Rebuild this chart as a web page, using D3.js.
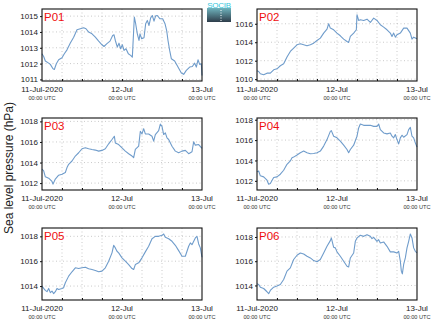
<!DOCTYPE html>
<html>
<head>
<meta charset="utf-8">
<script src="https://cdn.jsdelivr.net/npm/d3@7"></script>
<style>
  html, body { margin: 0; padding: 0; background: #fff; }
  svg { display: block; font-family: "Liberation Sans", Arial, sans-serif; }
</style>
</head>
<body>
<svg id="chart" width="435" height="327"></svg>
<script>
// Station names
const stations = ["P01", "P02", "P03", "P04", "P05", "P06"];

// Hours since 11-Jul-2020 00:00 UTC for each station's samples
const p01Hours = [0,0.5,1,2,2.5,3.3,3.7,4.3,5,6,6.7,7.5,8.5,9.5,10.5,11.5,12.5,13.2,14,15,16,17,18,18.6,19.4,20.4,21.2,21.6,22,22.6,23.1,23.6,24.1,24.6,25.2,25.9,26.6,27.1,27.4,27.7,28.1,28.6,29.1,29.4,29.9,30.6,31.1,31.6,32.1,32.6,33.1,33.6,34.1,34.6,35.4,36.2,36.9,37.4,37.8,38.3,38.8,39.8,40.8,41.8,42.5,43.3,44.3,45.1,45.8,46.3,46.8,47.3,47.8,48];
const p01Values = [1012.62,1012.45,1012.16,1012.03,1011.95,1011.67,1011.63,1011.99,1012.24,1012.37,1012.62,1012.87,1013.3,1013.67,1014.14,1014.2,1014.26,1014.2,1013.99,1013.88,1013.67,1013.42,1013.19,1013.08,1013.25,1013.42,1013.78,1013.82,1013.46,1013.04,1013.29,1012.94,1013.19,1012.83,1012.94,1012.62,1012.52,1012.41,1013.67,1014.94,1014.52,1013.88,1013.46,1013.88,1013.57,1013.63,1014.52,1014.73,1014.41,1014.89,1015.04,1014.68,1015.02,1015.04,1014.83,1014.83,1014.52,1014.09,1013.46,1012.83,1012.31,1012.16,1011.78,1011.4,1011.32,1011.57,1011.78,1011.82,1012.03,1011.78,1012.24,1011.95,1011.99,1011.25];

const p02Hours = [0,0.5,1,2,3,4,5,6,7,8,9,10,11,12,13,14,15,16,17,18,19,20,21,21.5,22,23,24,25,26,27,27.5,28,29,29.8,30,30.5,31,32,33,34,35,36,37,38,39,40,40.5,41,41.5,42,43,44,45,46,46.5,47,48];
const p02Values = [1010.9,1010.83,1010.58,1010.47,1010.65,1010.65,1011.01,1011.12,1011.45,1011.66,1012.39,1013.0,1013.36,1013.72,1013.83,1013.72,1013.61,1013.72,1013.9,1014.19,1014.45,1014.99,1015.42,1016.0,1015.53,1015.35,1014.99,1014.7,1014.34,1014.08,1013.98,1014.63,1014.99,1015.35,1016.98,1016.36,1016.43,1016.36,1016.5,1016.14,1016.61,1016.36,1015.89,1015.64,1015.35,1014.99,1014.63,1014.99,1014.55,1014.81,1014.99,1015.53,1015.53,1014.99,1014.34,1014.55,1014.37];

const p03Hours = [0,0.5,1,2,3,3.3,4,5,6,7,7.5,8,9,10,11,12,13,14,15,16,17,18,19,20,21,21.7,22,23,24,25,26,27,27.5,28,29,29.5,30,30.5,31,32,33,33.5,34,35,35.5,36,36.5,37,37.5,38,39,40,41,42,43,44,45,45.5,46,47,48];
const p03Values = [1013.35,1013.19,1012.61,1012.48,1012.16,1011.9,1012.39,1012.77,1012.87,1013.03,1013.51,1013.83,1014.15,1014.63,1014.95,1015.34,1015.43,1015.34,1015.27,1015.21,1015.11,1015.18,1015.34,1015.82,1016.24,1016.56,1015.91,1015.75,1015.43,1015.11,1014.86,1014.63,1014.47,1015.27,1015.59,1017.04,1016.78,1017.29,1016.78,1016.78,1016.56,1016.08,1016.72,1017.1,1017.74,1017.52,1016.72,1016.88,1016.4,1016.24,1015.59,1015.11,1014.95,1015.11,1015.18,1014.86,1015.05,1016.01,1015.69,1015.75,1015.37];

const p04Hours = [0,0.5,1,2,3,3.5,4,5,6,7,8,9,10,10.5,11,12,13,14,15,16,17,18,19,20,21,22,22.3,23,24,25,26,27,27.5,28,29,30,30.5,31,32,33,34,35,36,36.5,37,38,39,40,40.5,41,41.5,42,42.5,43,43.5,44,45,45.5,46,46.5,47,47.5,48];
const p04Values = [1012.88,1012.97,1012.49,1012.39,1012.06,1011.67,1011.74,1012.32,1012.39,1012.65,1013.04,1013.62,1013.95,1014.27,1014.33,1014.53,1014.76,1014.92,1014.76,1014.66,1014.69,1014.76,1014.92,1015.41,1016.05,1016.86,1016.93,1016.38,1016.22,1015.89,1015.5,1015.08,1014.76,1015.08,1015.5,1016.38,1017.19,1017.58,1017.45,1017.45,1017.45,1017.35,1017.35,1017.58,1017.03,1016.7,1016.61,1016.7,1016.38,1016.22,1016.54,1016.05,1015.63,1016.22,1016.48,1016.28,1016.54,1017.03,1017.25,1016.38,1016.22,1015.73,1015.31];

const p05Hours = [0,0.5,1,1.5,2,2.5,3,3.5,4,4.5,5,6,6.5,7,8,9,10,11,12,13,14,15,16,17,18,19,20,21,21.5,22,22.5,23,24,25,26,27,27.5,28,29,30,31,32,33,34,35,36,36.5,37,38,39,40,41,42,43,44,44.5,45,46,46.5,47,47.5,48];
const p05Values = [1014.0,1013.81,1013.65,1013.55,1013.81,1013.47,1013.6,1013.39,1013.55,1013.81,1013.73,1013.81,1013.87,1014.27,1014.8,1015.15,1015.47,1015.41,1015.47,1015.52,1015.39,1015.33,1015.25,1015.15,1015.2,1015.47,1016.0,1016.67,1017.28,1017.07,1016.8,1016.67,1016.27,1016.0,1015.73,1015.41,1015.33,1015.73,1015.87,1016.27,1016.75,1017.2,1017.81,1018.0,1018.0,1018.08,1018.19,1017.92,1017.81,1017.6,1017.28,1016.85,1016.4,1016.4,1017.2,1017.47,1017.33,1017.87,1018.0,1017.39,1017.07,1016.32];

const p06Hours = [0,0.5,1,2,3,3.5,4,5,6,7,8,9,10,11,12,13,14,15,16,17,18,19,20,21,22,22.3,23,23.5,24,25,26,27,27.5,28,29,29.5,30,31,32,33,34,34.5,35,36,36.5,37,38,39,40,41,42,42.5,43,43.3,43.6,44,44.5,45,45.5,46,46.5,47,47.5,48];
const p06Values = [1014.14,1014.08,1013.86,1013.75,1013.48,1013.32,1013.59,1013.86,1013.95,1014.08,1014.49,1015.18,1015.45,1016.14,1016.49,1016.68,1016.6,1016.41,1016.27,1016.05,1015.95,1016.14,1016.68,1017.23,1017.7,1017.92,1017.15,1017.1,1016.77,1016.41,1016.0,1015.59,1015.53,1016.27,1016.68,1017.64,1017.92,1018.14,1018.05,1018.19,1018.05,1017.86,1017.97,1017.64,1017.78,1017.51,1017.59,1017.23,1016.77,1016.77,1016.68,1016.82,1016.0,1015.18,1014.96,1015.73,1016.27,1017.1,1017.64,1018.25,1017.92,1017.1,1016.82,1016.68];

// Y-axis limits and tick values per station
const yLimits = [[1010.9,1015.45],[1009.8,1017.6],[1011.33,1018.33],[1011.1,1018.17],[1012.88,1018.67],[1012.8,1018.74]];
const yTicks = [[1011,1012,1013,1014,1015],[1010,1012,1014,1016],[1012,1014,1016,1018],[1012,1014,1016,1018],[1014,1016,1018],[1014,1016,1018]];

// X-axis tick labels
const xTickDates = ["2020-07-11T00:00:00Z","2020-07-12T00:00:00Z","2020-07-13T00:00:00Z"];
const xTickLabels = ["11-Jul-2020","12-Jul","13-Jul"];
const xTickSubLabels = ["00:00 UTC","00:00 UTC","00:00 UTC"];

const allHours = [p01Hours,p02Hours,p03Hours,p04Hours,p05Hours,p06Hours];
const allValues = [p01Values,p02Values,p03Values,p04Values,p05Values,p06Values];

const t0 = new Date("2020-07-11T00:00:00Z");
const t1 = new Date("2020-07-13T00:00:00Z");
const hourMs = 3600 * 1000;

const svg = d3.select("#chart");

// Panel geometry
const colX = [42, 257];
const rowY = [9, 118, 228];
const pw = 160, ph = 72;

stations.forEach((name, i) => {
  const col = i % 2, row = Math.floor(i / 2);
  const g = svg.append("g").attr("transform", `translate(${colX[col]},${rowY[row]})`);

  const x = d3.scaleUtc().domain([t0, t1]).range([0, pw]);
  const y = d3.scaleLinear().domain(yLimits[i]).range([ph, 0]);

  // grid: every 6 hours vertically, at each tick horizontally
  const gridTimes = d3.utcHour.every(6).range(t0, t1).slice(1);
  g.append("g").selectAll("line").data(gridTimes).join("line")
    .attr("x1", d => x(d)).attr("x2", d => x(d))
    .attr("y1", 0).attr("y2", ph)
    .attr("stroke", "#bdbdbd").attr("stroke-width", 0.8)
    .attr("stroke-dasharray", "1,2.5");
  g.append("g").selectAll("line").data(yTicks[i]).join("line")
    .attr("x1", 0).attr("x2", pw)
    .attr("y1", d => y(d)).attr("y2", d => y(d))
    .attr("stroke", "#bdbdbd").attr("stroke-width", 0.8)
    .attr("stroke-dasharray", "1,2.5");

  // pressure series
  const pts = allHours[i].map((h, k) => [new Date(t0.getTime() + h * hourMs), allValues[i][k]]);
  g.append("path").datum(pts)
    .attr("fill", "none")
    .attr("stroke", "#6f9ccb")
    .attr("stroke-width", 1.1)
    .attr("stroke-linejoin", "round")
    .attr("d", d3.line().x(d => x(d[0])).y(d => y(d[1])));

  // frame
  g.append("rect").attr("x", 0).attr("y", 0).attr("width", pw).attr("height", ph)
    .attr("fill", "none").attr("stroke", "#111").attr("stroke-width", 1.1);

  // y axis
  const yAxis = d3.axisLeft(y).tickValues(yTicks[i]).tickSize(2).tickPadding(2).tickFormat(d3.format("d"));
  const ya = g.append("g").call(yAxis);
  ya.select(".domain").remove();
  ya.selectAll("text").attr("font-size", 8).attr("fill", "#222")
    .attr("font-family", "Liberation Sans, Arial, sans-serif");
  ya.selectAll("line").attr("stroke", "#111");

  // x axis with two-line labels
  const xa = g.append("g").attr("transform", `translate(0,${ph})`)
    .call(d3.axisBottom(x).tickValues(gridTimes).tickSize(-2).tickFormat(""));
  xa.select(".domain").remove();
  xa.selectAll("line").attr("stroke", "#111");

  const labels = g.append("g").attr("font-family", "Liberation Sans, Arial, sans-serif")
    .attr("text-anchor", "middle");
  xTickDates.forEach((ds, k) => {
    const d = new Date(ds);
    labels.append("text").attr("x", x(d)).attr("y", ph + 10.5)
      .attr("font-size", 8).attr("fill", "#222").text(xTickLabels[k]);
    labels.append("text").attr("x", x(d)).attr("y", ph + 19)
      .attr("font-size", 5.6).attr("fill", "#333").text(xTickSubLabels[k]);
  });

  // station name
  g.append("text").attr("x", 2).attr("y", 11.5)
    .attr("font-size", 11.5).attr("fill", "#f01010").text(name);
});

// shared y label
svg.append("text")
  .attr("transform", "translate(13,168) rotate(-90)")
  .attr("text-anchor", "middle")
  .attr("font-size", 12)
  .attr("fill", "#222")
  .text("Sea level pressure (hPa)");

// SOCIB logo
const defs = svg.append("defs");
const grad = defs.append("linearGradient").attr("id", "logoGrad")
  .attr("x1", 0).attr("y1", 0).attr("x2", 0).attr("y2", 1);
grad.append("stop").attr("offset", "0%").attr("stop-color", "#6fb3bd");
grad.append("stop").attr("offset", "100%").attr("stop-color", "#2e3d4a");
const logo = svg.append("g").attr("transform", "translate(207,0)");
logo.append("rect").attr("x", 0).attr("y", 8).attr("width", 24).attr("height", 14)
  .attr("fill", "url(#logoGrad)");
logo.append("line").attr("x1", 14).attr("x2", 14).attr("y1", 10).attr("y2", 21)
  .attr("stroke", "#fff").attr("stroke-width", 1).attr("stroke-dasharray", "1,1.5");
logo.append("text").attr("x", 12).attr("y", 7.5).attr("text-anchor", "middle")
  .attr("font-size", 8).attr("fill", "#35c6dc").attr("letter-spacing", "-0.3")
  .text("SOCIB");
</script>
</body>
</html>
